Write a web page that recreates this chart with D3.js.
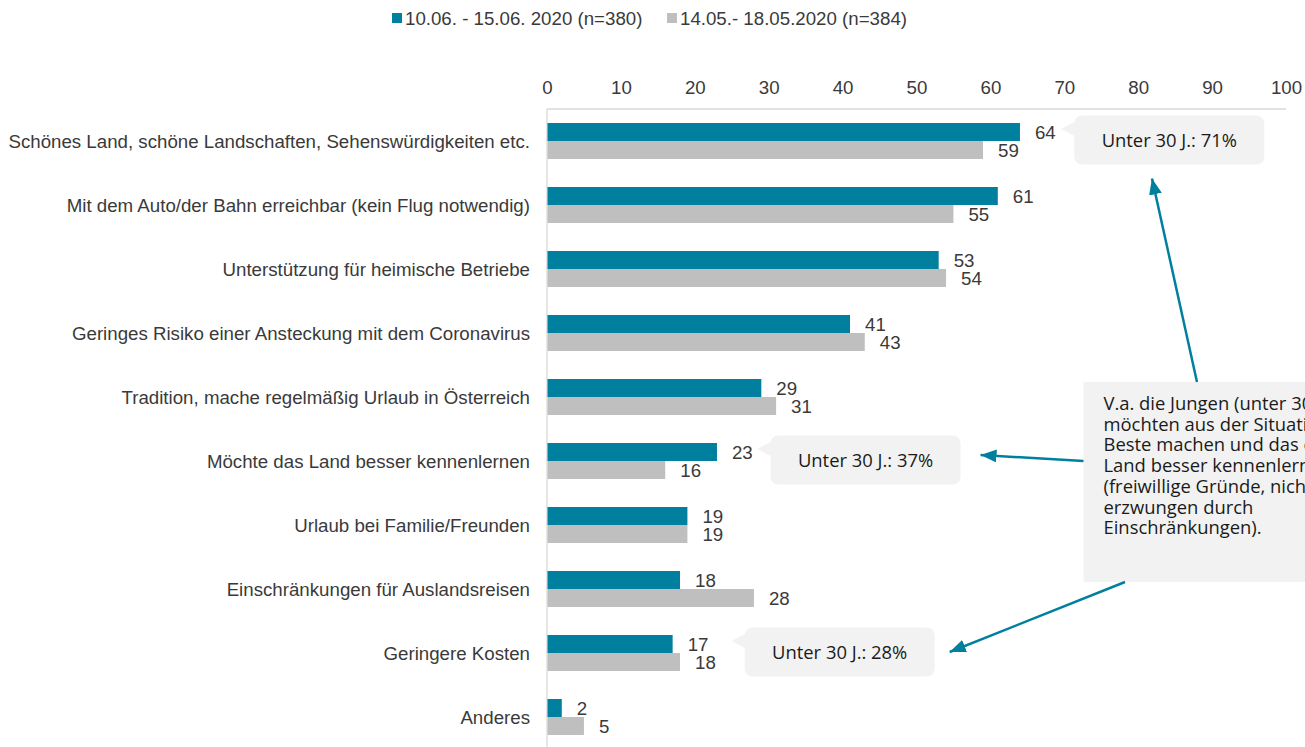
<!DOCTYPE html>
<html>
<head>
<meta charset="utf-8">
<script src="https://cdn.jsdelivr.net/npm/d3@7"></script>
<style>
  html, body { margin: 0; padding: 0; background: #fff; overflow: hidden; }
  svg { display: block; }
</style>
</head>
<body>
<svg id="chart" width="1305" height="747"></svg>
<script>
// ---- data ----
const categories = [
  "Schönes Land, schöne Landschaften, Sehenswürdigkeiten etc.",
  "Mit dem Auto/der Bahn erreichbar (kein Flug notwendig)",
  "Unterstützung für heimische Betriebe",
  "Geringes Risiko einer Ansteckung mit dem Coronavirus",
  "Tradition, mache regelmäßig Urlaub in Österreich",
  "Möchte das Land besser kennenlernen",
  "Urlaub bei Familie/Freunden",
  "Einschränkungen für Auslandsreisen",
  "Geringere Kosten",
  "Anderes"
];
const seriesNames = ["10.06. - 15.06. 2020 (n=380)", "14.05.- 18.05.2020 (n=384)"];
const juneValues = [64, 61, 53, 41, 29, 23, 19, 18, 17, 2];
const mayValues  = [59, 55, 54, 43, 31, 16, 19, 28, 18, 5];
const tickValues = [0, 10, 20, 30, 40, 50, 60, 70, 80, 90, 100];
const calloutCats = [0, 5, 8];
const calloutTexts = ["Unter 30 J.: 71%", "Unter 30 J.: 37%", "Unter 30 J.: 28%"];
const noteLines = [
  "V.a. die Jungen (unter 30 J.)",
  "möchten aus der Situation das",
  "Beste machen und das eigene",
  "Land besser kennenlernen",
  "(freiwillige Gründe, nicht",
  "erzwungen durch",
  "Einschränkungen)."
];

// ---- styles ----
const teal = "#007f9f";
const grey = "#bfbfbf";
const textCol = "#3a3a3a";
const boxFill = "#f2f2f2";
const labelFont = "'Liberation Sans', Arial, sans-serif";
const noteFont = "'Open Sans', sans-serif";
const fs = 18.7;

const svg = d3.select("#chart");

const x = d3.scaleLinear().domain([0, 100]).range([547, 1286]);
const y = d3.scaleBand().domain(d3.range(categories.length)).range([109, 749])
  .paddingInner(0.4375).paddingOuter(0.21875);
const ySub = d3.scaleBand().domain([0, 1]).range([0, y.bandwidth()]);
const colors = [teal, grey];
const series = [juneValues, mayValues];

// defs: arrowhead
svg.append("defs").append("marker")
  .attr("id", "arrow").attr("markerUnits", "userSpaceOnUse")
  .attr("markerWidth", 17).attr("markerHeight", 13)
  .attr("refX", 16).attr("refY", 6.5).attr("orient", "auto")
  .append("path").attr("d", "M0,0 L16,6.5 L0,13 Z").attr("fill", teal);

// legend
const legend = svg.append("g").attr("font-family", labelFont).attr("font-size", fs).attr("fill", textCol);
const legendX = [392, 667];
seriesNames.forEach((name, i) => {
  legend.append("rect").attr("x", legendX[i]).attr("y", 13).attr("width", 10).attr("height", 10).attr("fill", colors[i]);
  legend.append("text").attr("x", legendX[i] + 13).attr("y", 18).attr("dy", "0.35em").text(name);
});

// top axis
const axis = d3.axisTop(x).tickValues(tickValues).tickSize(0).tickPadding(0).tickFormat(d3.format("d"));
const gAxis = svg.append("g").attr("transform", "translate(0,109)").call(axis);
gAxis.select(".domain").attr("stroke", "#d9d9d9").attr("stroke-width", 1.3)
  .attr("d", `M${x(0)},0H${x(100)}`);
gAxis.selectAll(".tick text").attr("font-family", labelFont).attr("font-size", fs)
  .attr("fill", textCol).attr("y", -22).attr("dy", "0.35em");

// vertical axis line
svg.append("line").attr("x1", x(0)).attr("x2", x(0)).attr("y1", 109).attr("y2", 747)
  .attr("stroke", "#d9d9d9").attr("stroke-width", 1.3);

// category labels
svg.append("g").selectAll("text").data(categories).join("text")
  .attr("x", 530).attr("y", (d, i) => y(i) + y.bandwidth() / 2)
  .attr("dy", "0.35em").attr("text-anchor", "end")
  .attr("font-family", labelFont).attr("font-size", fs).attr("fill", textCol)
  .text(d => d);

// bars and value labels
series.forEach((vals, s) => {
  const g = svg.append("g");
  g.selectAll("rect").data(vals).join("rect")
    .attr("x", x(0) + 0.5)
    .attr("y", (d, i) => y(i) + ySub(s))
    .attr("width", d => x(d) - x(0) - 0.5)
    .attr("height", ySub.bandwidth())
    .attr("fill", colors[s]);
  g.selectAll("text").data(vals).join("text")
    .attr("x", d => x(d) + 15)
    .attr("y", (d, i) => y(i) + ySub(s) + ySub.bandwidth() / 2)
    .attr("dy", "0.35em")
    .attr("font-family", labelFont).attr("font-size", fs).attr("fill", textCol)
    .text(d => d);
});

// callouts
const calloutLeft = [71.35, 30.25, 26.75];
const boxW = 190, boxH = 49;
const callG = svg.append("g");
const calloutBoxes = [];
calloutCats.forEach((c, k) => {
  const bx = x(calloutLeft[k]);
  const by = y(c) - 7.5;
  calloutBoxes.push({ bx, by });
  callG.append("rect").attr("x", bx).attr("y", by).attr("width", boxW).attr("height", boxH)
    .attr("rx", 8).attr("ry", 8).attr("fill", boxFill);
  callG.append("path")
    .attr("d", `M${bx + 1},${by + 6} L${bx - 13},${by + 13.5} L${bx + 1},${by + 21} Z`)
    .attr("fill", boxFill);
  callG.append("text").attr("x", bx + boxW / 2).attr("y", by + boxH / 2)
    .attr("dy", "0.36em").attr("text-anchor", "middle")
    .attr("font-family", noteFont).attr("font-size", 18.4).attr("fill", "#1a1a1a")
    .text(calloutTexts[k]);
});

// note box
const noteX = x(72.6), noteY = y(4) + 3, noteW = 260, noteH = 200;
svg.append("rect").attr("x", noteX).attr("y", noteY).attr("width", noteW).attr("height", noteH).attr("fill", boxFill);
const noteText = svg.append("text").attr("font-family", noteFont).attr("font-size", 18.4).attr("fill", "#1a1a1a");
noteLines.forEach((line, i) => {
  noteText.append("tspan").attr("x", noteX + 20).attr("y", noteY + 28 + i * 20.7).text(line);
});

// arrows
const arrows = [
  { x1: 1197, y1: noteY, x2: 1152, y2: calloutBoxes[0].by + boxH + 14 },
  { x1: noteX, y1: 461, x2: calloutBoxes[1].bx + boxW + 20, y2: 455 },
  { x1: 1125, y1: noteY + noteH, x2: calloutBoxes[2].bx + boxW + 15, y2: 652 }
];
svg.append("g").selectAll("line").data(arrows).join("line")
  .attr("x1", d => d.x1).attr("y1", d => d.y1).attr("x2", d => d.x2).attr("y2", d => d.y2)
  .attr("stroke", teal).attr("stroke-width", 2.5).attr("marker-end", "url(#arrow)");
</script>
</body>
</html>
